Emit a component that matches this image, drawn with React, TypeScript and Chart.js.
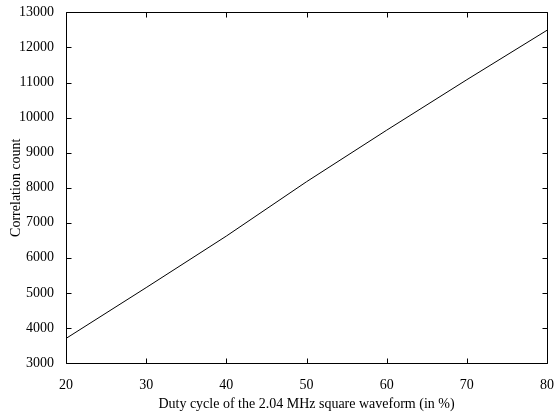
import React, { useEffect, useRef } from "react";
import { Chart, registerables } from "chart.js";

Chart.register(...registerables);

const dutyCycle = [20, 30, 40, 50, 60, 70, 80];
const correlationCount = [3700, 5150, 6620, 8170, 9640, 11080, 12490];
const xTicks = [20, 30, 40, 50, 60, 70, 80];
const yTicks = [3000, 4000, 5000, 6000, 7000, 8000, 9000, 10000, 11000, 12000, 13000];

const FONT = "'Liberation Serif', 'Times New Roman', serif";

const boxPlugin = {
  id: "matlabBox",
  afterDatasetsDraw(chart: any) {
    const { ctx, chartArea, scales } = chart;
    const { left, right, top, bottom } = chartArea;
    const L = Math.round(left) + 0.5;
    const R = Math.round(right) + 0.5;
    const T = Math.round(top) + 0.5;
    const B = Math.round(bottom) + 0.5;
    const len = 5;
    ctx.save();
    ctx.strokeStyle = "#000";
    ctx.lineWidth = 1;
    ctx.beginPath();
    ctx.rect(L, T, R - L, B - T);
    for (const v of xTicks) {
      const x = Math.round(scales.x.getPixelForValue(v)) + 0.5;
      ctx.moveTo(x, B);
      ctx.lineTo(x, B - len);
      ctx.moveTo(x, T);
      ctx.lineTo(x, T + len);
    }
    for (const v of yTicks) {
      const y = Math.round(scales.y.getPixelForValue(v)) + 0.5;
      ctx.moveTo(L, y);
      ctx.lineTo(L + len, y);
      ctx.moveTo(R, y);
      ctx.lineTo(R - len, y);
    }
    ctx.stroke();
    ctx.restore();
  },
};

export default function App() {
  const ref = useRef<HTMLCanvasElement>(null);
  useEffect(() => {
    if (!ref.current) return;
    const chart = new Chart(ref.current, {
      type: "line",
      data: {
        datasets: [
          {
            data: dutyCycle.map((x, i) => ({ x, y: correlationCount[i] })),
            borderColor: "#000",
            borderWidth: 1,
            pointRadius: 0,
            tension: 0,
            fill: false,
          },
        ],
      },
      options: {
        responsive: false,
        animation: false,
        layout: { padding: { top: 12, right: 12, left: 0, bottom: 0 } },
        plugins: { legend: { display: false }, tooltip: { enabled: false } },
        scales: {
          x: {
            type: "linear",
            min: 20,
            max: 80,
            afterBuildTicks: (s: any) => {
              s.ticks = xTicks.map((v) => ({ value: v }));
            },
            afterFit: (s: any) => {
              s.height = 51;
            },
            grid: { display: false },
            border: { display: false },
            ticks: {
              color: "#000",
              padding: 6,
              maxRotation: 0,
              autoSkip: false,
              font: { family: FONT, size: 14 },
            },
            title: {
              display: true,
              text: "Duty cycle of the 2.04 MHz square waveform (in %)",
              color: "#000",
              padding: { top: 0, bottom: 1 },
              font: { family: FONT, size: 14 },
            },
          },
          y: {
            type: "linear",
            min: 3000,
            max: 13000,
            afterBuildTicks: (s: any) => {
              s.ticks = yTicks.map((v) => ({ value: v }));
            },
            afterFit: (s: any) => {
              s.width = 66;
            },
            grid: { display: false },
            border: { display: false },
            ticks: {
              color: "#000",
              padding: 4,
              autoSkip: false,
              font: { family: FONT, size: 14 },
              callback: (v: any) => String(v),
            },
            title: {
              display: true,
              text: "Correlation count",
              color: "#000",
              padding: { top: 8, bottom: 0 },
              font: { family: FONT, size: 14 },
            },
          },
        },
      },
      plugins: [boxPlugin],
    });
    return () => chart.destroy();
  }, []);
  return (
    <div style={{ position: "absolute", left: 0, top: 0, width: 560, height: 414, background: "#fff" }}>
      <canvas ref={ref} width={560} height={414} style={{ display: "block" }} />
    </div>
  );
}
